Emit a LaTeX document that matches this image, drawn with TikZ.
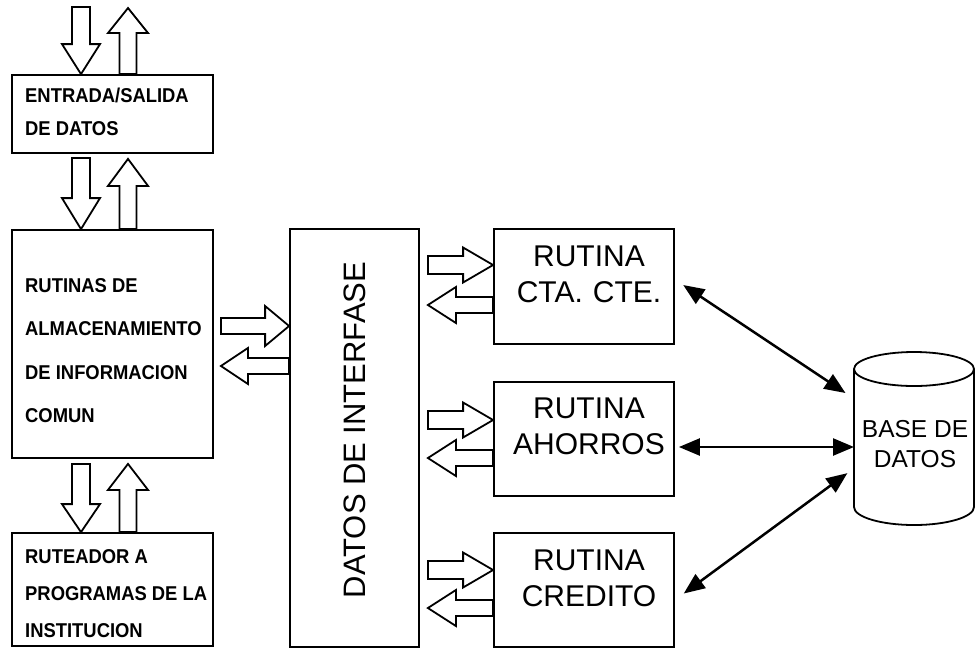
\documentclass[tikz,border=0pt]{standalone}
\usepackage{fontspec}
\setmainfont{Liberation Sans}
\newfontfamily\leftfont[FakeStretch=0.92]{Liberation Sans Bold}
\usetikzlibrary{calc,arrows.meta}
\newcommand\ltfont[1]{\leftfont\fontsize{20pt}{#1pt}\selectfont}
\newcommand\rtfont[1]{\fontsize{30pt}{#1pt}\selectfont}
\newcommand\harr[5]{%
  \coordinate (hb) at ($(#2)!#3!(#1)$);
  \draw[hol] ($(#1)!#5!90:(#2)$) -- ($(hb)!#5!90:(#2)$) -- ($(hb)!#4!90:(#2)$) -- (#2)
    -- ($(hb)!#4!-90:(#2)$) -- ($(hb)!#5!-90:(#2)$) -- ($(#1)!#5!-90:(#2)$) -- cycle;}
\tikzset{
  box/.style={draw, rectangle, line width=1.8pt, inner sep=0pt},
  lbox/.style={box, minimum width=201pt},
  rbox/.style={box, minimum width=180pt},
  ltext/.style={align=left, inner sep=0pt, anchor=west},
  rtext/.style={align=center, inner sep=0pt, font=\rtfont{36}},
  hol/.style={draw, line width=1.8pt, fill=white, line join=miter},
  dbl/.style={line width=2.5pt, {Triangle[length=21pt 0 0,width=17pt 0 0]}-{Triangle[length=21pt 0 0,width=17pt 0 0]}},
  cyl/.style={line width=1.8pt}
}
\begin{document}
\begin{tikzpicture}[x=1pt,y=-1pt]
\useasboundingbox (0,0) rectangle (979,649);
% left column
\node[lbox, minimum height=78pt] (b1) at (112.5,114) {};
\node[ltext, font=\ltfont{33}] (b1t) at (25,111.7) {ENTRADA/SALIDA\\DE DATOS};
\node[lbox, minimum height=228pt] (b2) at (112.5,344) {};
\node[ltext, font=\ltfont{43.5}] (b2t) at (25,350.5) {RUTINAS DE\\ALMACENAMIENTO\\DE INFORMACION\\COMUN};
\node[lbox, minimum height=113pt] (b3) at (112.5,589.5) {};
\node[ltext, font=\ltfont{37}] (b3t) at (25,593.5) {RUTEADOR A\\PROGRAMAS DE LA\\INSTITUCION};
% interface
\node[box, minimum width=129pt, minimum height=418pt] (ifc) at (354.5,438) {};
\node[rotate=90, inner sep=0pt, font=\fontsize{31pt}{31pt}\selectfont] (ifct) at (355,430) {DATOS DE INTERFASE};
% routines
\node[rbox, minimum height=115pt] (r1) at (584,286.5) {};
\node[rtext] (r1t) at (589,274.4) {RUTINA\\CTA.\,\,CTE.};
\node[rbox, minimum height=114pt] (r2) at (584,439) {};
\node[rtext] (r2t) at (589,426.5) {RUTINA\\AHORROS};
\node[rbox, minimum height=114pt] (r3) at (584,590) {};
\node[rtext] (r3t) at (589,578.5) {RUTINA\\CREDITO};
% database cylinder
\draw[cyl] (854,369) -- (854,507) arc[start angle=180, end angle=360, x radius=60pt, y radius=18pt] -- (974,369);
\draw[cyl] (914,369) ellipse [x radius=60pt, y radius=17pt];
\node[rtext, font=\fontsize{24.5pt}{30pt}\selectfont] (dbt) at (915,444) {BASE DE\\DATOS};
\coordinate (dbA) at (853,398);
\coordinate (dbB) at (854,447);
\coordinate (dbC) at (853,469);
% hollow arrows, left column
\coordinate (d1a) at (81,7);    \coordinate (d1b) at (d1a |- b1.north);
\coordinate (u1b) at (128,8);   \coordinate (u1a) at (u1b |- b1.north);
\harr{d1a}{d1b}{30pt}{19pt}{9pt}
\harr{u1a}{u1b}{25pt}{20pt}{8.5pt}
\coordinate (d2a) at ($(81,0 |- b1.south)+(0,4)$); \coordinate (d2b) at (81,0 |- b2.north);
\coordinate (u2b) at ($(128,0 |- b1.south)+(0,5)$); \coordinate (u2a) at (128,0 |- b2.north);
\harr{d2a}{d2b}{31pt}{19pt}{9pt}
\harr{u2a}{u2b}{27pt}{20pt}{8.5pt}
\coordinate (d3a) at ($(81,0 |- b2.south)+(0,5)$); \coordinate (d3b) at (81,0 |- b3.north);
\coordinate (u3b) at ($(128,0 |- b2.south)+(0,5)$); \coordinate (u3a) at (128,0 |- b3.north);
\harr{d3a}{d3b}{28pt}{19pt}{9pt}
\harr{u3a}{u3b}{26pt}{20pt}{8.5pt}
% hollow arrows, rutinas <-> interfase
\coordinate (h1a) at ($(b2.east |- 0,326)+(7,0)$); \coordinate (h1b) at (ifc.west |- 0,326);
\coordinate (h2a) at (ifc.west |- 0,366); \coordinate (h2b) at ($(b2.east |- 0,366)+(7,0)$);
\harr{h1a}{h1b}{24pt}{20pt}{8pt}
\harr{h2a}{h2b}{27pt}{18pt}{8pt}
% hollow arrows, interfase <-> routines
\foreach \n/\ry/\ly in {1/265/305, 2/420/458, 3/570/608}{
  \coordinate (ra\n) at ($(ifc.east |- 0,\ry)+(8,0)$); \coordinate (rb\n) at (r\n.west |- 0,\ry);
  \coordinate (la\n) at (r\n.west |- 0,\ly); \coordinate (lb\n) at ($(ifc.east |- 0,\ly)+(8,0)$);
  \harr{ra\n}{rb\n}{30pt}{17.5pt}{9pt}
  \harr{la\n}{lb\n}{28pt}{18pt}{8pt}
}
% database connectors
\draw[dbl, shorten <=10pt, shorten >=9pt] ($(r1.east)+(0,-7)$) -- (dbA);
\draw[dbl, shorten <=4pt] (r2.east |- dbB) -- (dbB);
\draw[dbl, shorten <=11pt, shorten >=7pt] ($(r3.east)+(0,10)$) -- (dbC);
\end{tikzpicture}
\end{document}
